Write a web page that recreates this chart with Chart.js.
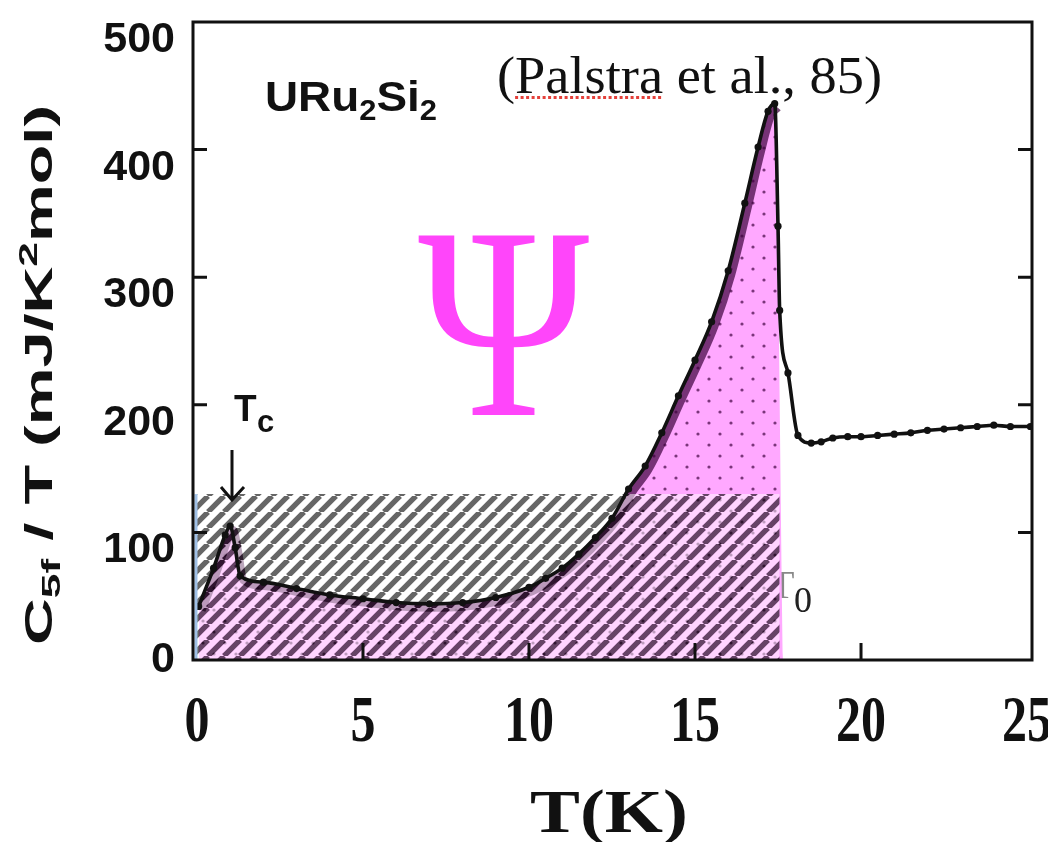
<!DOCTYPE html>
<html>
<head>
<meta charset="utf-8">
<script src="https://cdn.jsdelivr.net/npm/chart.js@4.4.1/dist/chart.umd.min.js"></script>
<style>
  html, body { margin: 0; padding: 0; background: #fff; }
  canvas { display: block; }
</style>
</head>
<body>
<canvas id="chart" width="1048" height="842"></canvas>
<script>
// values: T (K) and C5f/T (mJ/K^2 mol)
const tempK  = [0.05, 0.5, 0.85, 1.0, 1.15, 1.3, 2, 3, 4, 5, 6, 7, 8, 9, 10, 10.5, 11, 11.5, 12, 12.5,
                13, 13.5, 14, 14.5, 15, 15.5, 16, 16.5, 16.9, 17.2, 17.4, 17.5, 17.55, 17.8, 18.1, 18.5,
                18.8, 19.15, 19.6, 20, 20.5, 21, 21.5, 22, 22.5, 23, 23.5, 24, 24.5, 25.1];
const cOverT = [42, 72, 98, 105, 88, 66, 61, 56, 51, 48, 45, 44, 45, 49, 57, 64, 72, 83, 96, 111,
                134, 152, 178, 207, 235, 265, 305, 358, 402, 430, 436, 340, 274, 225, 176, 170,
                171, 174, 175, 175, 176, 177, 178, 180, 181, 182, 183, 184, 183, 183];

// shaded areas
const pinkEndT = 17.65;
const hatchT = [0, 17.55];
const hatchTop = 130;

// axes
const xMin = -0.12, xMax = 25.15;
const yMin = 0, yMax = 500;
const xTickLabels = [0, 5, 10, 15, 20, 25];
const yTickLabels = [0, 100, 200, 300, 400, 500];
const xInnerTicks = [5, 10, 15, 20];
const yInnerTicks = [100, 200, 300, 400];

const peakIndex = cOverT.indexOf(Math.max(...cOverT));
const curvePts = tempK.map((t, i) => ({ x: t, y: cOverT[i] }));
const lowPts = curvePts.slice(0, peakIndex + 1);

// --- fill patterns ---
function dotPattern() {
    const c = document.createElement('canvas');
    c.width = 22; c.height = 22;
    const g = c.getContext('2d');
    g.fillStyle = '#ffa8ff';
    g.fillRect(0, 0, 22, 22);
    g.fillStyle = '#7a357a';
    [[5, 5], [16, 16]].forEach(([x, y]) => {
        g.beginPath(); g.arc(x, y, 1.6, 0, Math.PI * 2); g.fill();
    });
    return g.createPattern(c, 'repeat');
}

function hatchPattern() {
    const s = 16;
    const c = document.createElement('canvas');
    c.width = s; c.height = s;
    const g = c.getContext('2d');
    g.fillStyle = 'rgba(255,255,255,0.5)';
    g.fillRect(0, 0, s, s);
    const stripes = () => {
        g.beginPath();
        for (let k = -1; k <= 1; k++) {
            g.moveTo(k * s, s);
            g.lineTo(k * s + s, 0);
        }
        g.stroke();
    };
    g.lineWidth = 5.4;
    g.globalCompositeOperation = 'destination-out';
    g.strokeStyle = '#000';
    stripes();
    g.globalCompositeOperation = 'source-over';
    g.strokeStyle = 'rgba(0,0,0,0.6)';
    stripes();
    return g.createPattern(c, 'repeat');
}

// --- text helpers ---
function drawRuns(ctx, runs, x, y, targetW, scaleY) {
    let total = 0;
    runs.forEach(r => { ctx.font = r[1]; total += ctx.measureText(r[0]).width; });
    const sx = targetW ? targetW / total : 1;
    ctx.save();
    ctx.translate(x, y);
    ctx.scale(sx, scaleY || 1);
    ctx.textAlign = 'left';
    ctx.textBaseline = 'alphabetic';
    let cx = 0;
    runs.forEach(r => {
        ctx.font = r[1];
        ctx.fillText(r[0], cx, r[2]);
        cx += ctx.measureText(r[0]).width;
    });
    ctx.restore();
    return sx;
}

function fitGlyph(ctx, text, font, x0, y0, x1, y1) {
    ctx.save();
    ctx.font = font;
    ctx.textAlign = 'left';
    ctx.textBaseline = 'alphabetic';
    const m = ctx.measureText(text);
    const w = m.actualBoundingBoxLeft + m.actualBoundingBoxRight;
    const h = m.actualBoundingBoxAscent + m.actualBoundingBoxDescent;
    const sx = (x1 - x0) / w, sy = (y1 - y0) / h;
    ctx.translate(x0 + m.actualBoundingBoxLeft * sx, y0 + m.actualBoundingBoxAscent * sy);
    ctx.scale(sx, sy);
    ctx.fillText(text, 0, 0);
    ctx.restore();
}

const SANS = 'Liberation Sans, Arial, sans-serif';
const SERIF = 'Liberation Serif, Times New Roman, serif';
const BAND_INDEX = 2;

const figurePlugin = {
    id: 'figure',
    beforeDatasetsDraw(chart) {
        // half-hidden T0 label, sits under the pink area
        const ctx = chart.ctx;
        ctx.save();
        ctx.fillStyle = '#888';
        ctx.font = '40px ' + SERIF;
        ctx.fillText('T', 770, 598);
        ctx.fillStyle = '#222';
        ctx.font = '36px ' + SERIF;
        ctx.fillText('0', 794, 612);
        ctx.restore();
    },
    // the dark band sits just inside the pink edge
    beforeDatasetDraw(chart, args) {
        if (args.index === BAND_INDEX) {
            chart.ctx.save();
            chart.ctx.translate(3, 4);
        }
    },
    afterDatasetDraw(chart, args) {
        if (args.index === BAND_INDEX) chart.ctx.restore();
    },
    afterDraw(chart) {
        const ctx = chart.ctx;
        const a = chart.chartArea;
        const xs = chart.scales.x, ys = chart.scales.y;
        ctx.save();

        // light blue edge of the hatched box
        ctx.strokeStyle = '#9fc0e6';
        ctx.lineWidth = 3;
        ctx.beginPath();
        ctx.moveTo(xs.getPixelForValue(hatchT[0]) - 1, ys.getPixelForValue(hatchTop));
        ctx.lineTo(xs.getPixelForValue(hatchT[0]) - 1, ys.getPixelForValue(0));
        ctx.stroke();

        // frame
        ctx.strokeStyle = '#111';
        ctx.lineWidth = 3;
        ctx.strokeRect(a.left, a.top, a.right - a.left, a.bottom - a.top);

        // inward ticks
        ctx.beginPath();
        yInnerTicks.forEach(v => {
            const y = ys.getPixelForValue(v);
            ctx.moveTo(a.left, y); ctx.lineTo(a.left + 14, y);
            ctx.moveTo(a.right, y); ctx.lineTo(a.right - 14, y);
        });
        xInnerTicks.forEach(v => {
            const x = xs.getPixelForValue(v);
            ctx.moveTo(x, a.bottom); ctx.lineTo(x, a.bottom - 17);
        });
        ctx.stroke();

        ctx.fillStyle = '#111';

        // y tick labels
        ctx.font = 'bold 43px ' + SANS;
        ctx.textAlign = 'right';
        ctx.textBaseline = 'alphabetic';
        yTickLabels.forEach(v => {
            const y = ys.getPixelForValue(v) + (v === 0 ? -3 : 15) + 15;
            ctx.fillText(String(v), 175, y);
        });

        // x tick labels (condensed serif)
        ctx.font = 'bold 50px ' + SERIF;
        ctx.textAlign = 'center';
        xTickLabels.forEach(v => {
            ctx.save();
            ctx.translate(xs.getPixelForValue(v), 741);
            ctx.scale(1, 1.32);
            ctx.fillText(String(v), 0, 0);
            ctx.restore();
        });

        // x title
        drawRuns(ctx, [['T(K)', 'bold 54px ' + SERIF, 0]], 530, 832, 158, 1.15);

        // y title, rotated
        ctx.save();
        ctx.translate(52, 645);
        ctx.rotate(-Math.PI / 2);
        drawRuns(ctx, [
            ['C', 'bold 38px ' + SANS, 0],
            ['5f', 'bold 26px ' + SANS, 8],
            [' / T (mJ/K', 'bold 38px ' + SANS, 0],
            ['2', 'bold 26px ' + SANS, -15],
            ['mol)', 'bold 38px ' + SANS, 0]
        ], 0, 0, 540);
        ctx.restore();

        // compound label
        drawRuns(ctx, [
            ['URu', 'bold 43px ' + SANS, 0],
            ['2', 'bold 29px ' + SANS, 9],
            ['Si', 'bold 43px ' + SANS, 0],
            ['2', 'bold 29px ' + SANS, 9]
        ], 265, 111, 172);

        // reference note with red spell-check underline
        ctx.font = '52px ' + SERIF;
        const full = ctx.measureText('(Palstra et al., 85)').width;
        const sx = 385 / full;
        const u0 = 497 + sx * ctx.measureText('(').width;
        const u1 = 497 + sx * ctx.measureText('(Palstra').width;
        drawRuns(ctx, [['(Palstra et al., 85)', '52px ' + SERIF, 0]], 497, 93, 385);
        ctx.fillStyle = '#e4403a';
        for (let x = u0; x < u1; x += 5.5) ctx.fillRect(x, 96, 3, 3);

        // Tc marker
        ctx.fillStyle = '#111';
        ctx.font = 'bold 37px ' + SANS;
        ctx.textAlign = 'left';
        ctx.fillText('T', 234, 421);
        ctx.font = 'bold 31px ' + SANS;
        ctx.fillText('c', 257, 432);
        ctx.strokeStyle = '#111';
        ctx.lineWidth = 3;
        ctx.beginPath();
        ctx.moveTo(232, 450); ctx.lineTo(232, 500);
        ctx.moveTo(221, 487); ctx.lineTo(232, 500); ctx.lineTo(244, 487);
        ctx.stroke();

        // Psi
        ctx.fillStyle = '#ff45fa';
        fitGlyph(ctx, '\u03A8', '300px ' + SERIF, 418, 235, 592, 415);

        ctx.restore();
    }
};

const ctx = document.getElementById('chart').getContext('2d');
new Chart(ctx, {
    type: 'line',
    data: {
        datasets: [
            {
                // measured curve with data points, on top
                data: curvePts,
                borderColor: '#111',
                borderWidth: 3.6,
                pointRadius: 3.6,
                pointBackgroundColor: '#111',
                pointBorderWidth: 0,
                cubicInterpolationMode: 'monotone',
                fill: false,
                order: 1
            },
            {
                // hatched box
                data: [{ x: hatchT[0], y: hatchTop }, { x: hatchT[1], y: hatchTop }],
                borderWidth: 0,
                pointRadius: 0,
                fill: 'origin',
                backgroundColor: hatchPattern(),
                order: 2
            },
            {
                // dark band along the low-T curve
                data: lowPts,
                borderColor: 'rgba(60,0,60,0.7)',
                borderWidth: 8,
                pointRadius: 0,
                cubicInterpolationMode: 'monotone',
                fill: false,
                order: 3
            },
            {
                // pink area under the curve up to the transition
                data: lowPts.concat([{ x: pinkEndT, y: 0 }]),
                borderWidth: 0,
                pointRadius: 0,
                cubicInterpolationMode: 'monotone',
                fill: 'origin',
                backgroundColor: dotPattern(),
                order: 4
            }
        ]
    },
    options: {
        responsive: false,
        animation: false,
        layout: { padding: { left: 193, top: 22, right: 16, bottom: 182 } },
        plugins: { legend: { display: false }, tooltip: { enabled: false } },
        scales: {
            x: { type: 'linear', display: false, min: xMin, max: xMax },
            y: { type: 'linear', display: false, min: yMin, max: yMax }
        }
    },
    plugins: [figurePlugin]
});
</script>
</body>
</html>
